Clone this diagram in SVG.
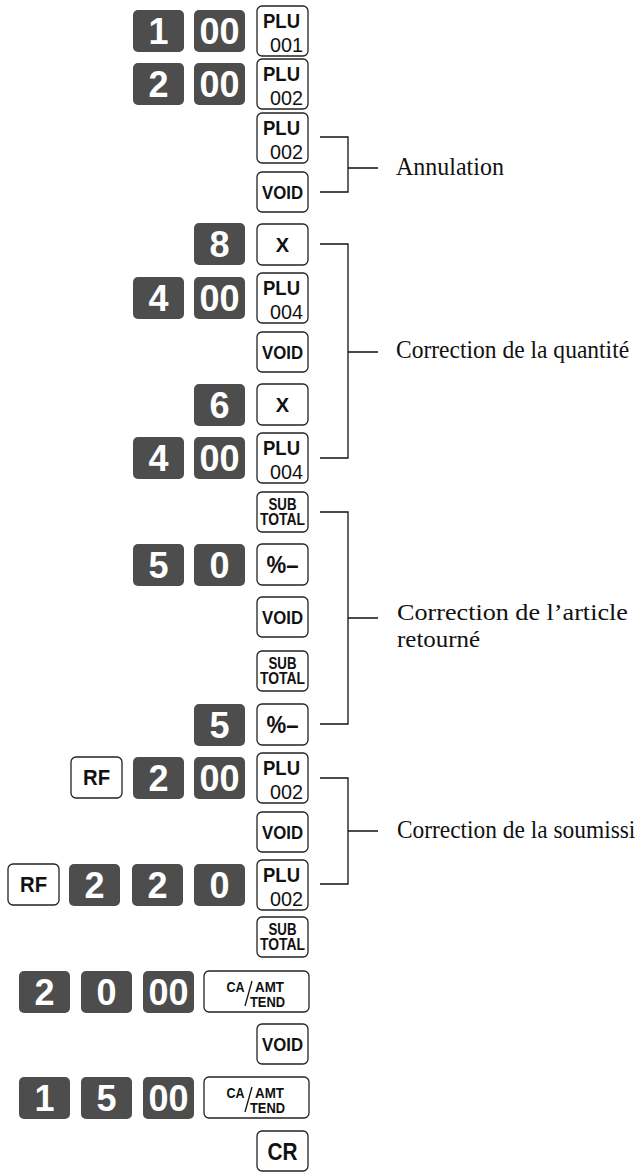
<svg xmlns="http://www.w3.org/2000/svg" width="638" height="1172" viewBox="0 0 638 1172">
<style>
.dk{fill:#4d4d4d}
.dt{font-family:"Liberation Sans",Arial,sans-serif;font-weight:bold;font-size:36px;fill:#fff;text-anchor:middle}
.wk{fill:#fff;stroke:#222;stroke-width:1.3}
.kt{font-family:"Liberation Sans",Arial,sans-serif;font-weight:bold;fill:#111;text-anchor:middle}
.pl{font-family:"Liberation Sans",Arial,sans-serif;font-weight:bold;font-size:20px;fill:#111}
.pn{font-family:"Liberation Sans",Arial,sans-serif;font-size:21px;fill:#111;text-anchor:end}
.br{stroke:#111;stroke-width:1.3;fill:none}
.lb{font-family:"Liberation Serif","Times New Roman",serif;font-size:26px;fill:#111}
.lb2{font-family:"Liberation Serif","Times New Roman",serif;font-size:24px;fill:#111}
</style>
<defs>
<rect id="d" class="dk" width="51" height="42" rx="5"/>
<rect id="w" class="wk" width="51" height="41" rx="5"/>
<rect id="wp" class="wk" width="51" height="50" rx="5"/>
<rect id="wv" class="wk" width="51" height="40" rx="5"/>
<rect id="wc" class="wk" width="105" height="41" rx="5"/>
</defs>

<!-- row 1 -->
<g id="k1-1"><use href="#d" x="133" y="10"/><text class="dt" x="158.5" y="44">1</text></g>
<g id="k1-2"><use href="#d" x="194" y="10"/><text class="dt" x="219.5" y="44">00</text></g>
<g id="k1-3"><use href="#wp" x="257" y="6"/><text class="pl" x="263" y="28" textLength="37" lengthAdjust="spacingAndGlyphs">PLU</text><text class="pn" x="303" y="52" textLength="33" lengthAdjust="spacingAndGlyphs">001</text></g>
<!-- row 2 -->
<g id="k2-1"><use href="#d" x="133" y="63"/><text class="dt" x="158.5" y="97">2</text></g>
<g id="k2-2"><use href="#d" x="194" y="63"/><text class="dt" x="219.5" y="97">00</text></g>
<g id="k2-3"><use href="#wp" x="257" y="59"/><text class="pl" x="263" y="81" textLength="37" lengthAdjust="spacingAndGlyphs">PLU</text><text class="pn" x="303" y="105" textLength="33" lengthAdjust="spacingAndGlyphs">002</text></g>
<!-- row 3 -->
<g id="k3"><use href="#wp" x="257" y="113"/><text class="pl" x="263" y="135" textLength="37" lengthAdjust="spacingAndGlyphs">PLU</text><text class="pn" x="303" y="159" textLength="33" lengthAdjust="spacingAndGlyphs">002</text></g>
<!-- row 4 -->
<g id="k4"><use href="#wv" x="257" y="172"/><text class="kt" font-size="19" x="282.5" y="199" textLength="41" lengthAdjust="spacingAndGlyphs">VOID</text></g>
<!-- row 5 -->
<g id="k5-1"><use href="#d" x="194" y="223"/><text class="dt" x="219.5" y="257">8</text></g>
<g id="k5-2"><use href="#w" x="257" y="224"/><text class="kt" font-size="20" x="282.5" y="252">X</text></g>
<!-- row 6 -->
<g id="k6-1"><use href="#d" x="133" y="277"/><text class="dt" x="158.5" y="311">4</text></g>
<g id="k6-2"><use href="#d" x="194" y="277"/><text class="dt" x="219.5" y="311">00</text></g>
<g id="k6-3"><use href="#wp" x="257" y="273"/><text class="pl" x="263" y="295" textLength="37" lengthAdjust="spacingAndGlyphs">PLU</text><text class="pn" x="303" y="319" textLength="33" lengthAdjust="spacingAndGlyphs">004</text></g>
<!-- row 7 -->
<g id="k7"><use href="#wv" x="257" y="332"/><text class="kt" font-size="19" x="282.5" y="359" textLength="41" lengthAdjust="spacingAndGlyphs">VOID</text></g>
<!-- row 8 -->
<g id="k8-1"><use href="#d" x="194" y="384"/><text class="dt" x="219.5" y="418">6</text></g>
<g id="k8-2"><use href="#w" x="257" y="384"/><text class="kt" font-size="20" x="282.5" y="412">X</text></g>
<!-- row 9 -->
<g id="k9-1"><use href="#d" x="133" y="437"/><text class="dt" x="158.5" y="471">4</text></g>
<g id="k9-2"><use href="#d" x="194" y="437"/><text class="dt" x="219.5" y="471">00</text></g>
<g id="k9-3"><use href="#wp" x="257" y="433"/><text class="pl" x="263" y="455" textLength="37" lengthAdjust="spacingAndGlyphs">PLU</text><text class="pn" x="303" y="479" textLength="33" lengthAdjust="spacingAndGlyphs">004</text></g>
<!-- row 10 -->
<g id="k10"><use href="#wv" x="257" y="492"/><text class="kt" font-size="16" x="282.5" y="510" textLength="28" lengthAdjust="spacingAndGlyphs">SUB</text><text class="kt" font-size="16" x="282.5" y="525" textLength="45" lengthAdjust="spacingAndGlyphs">TOTAL</text></g>
<!-- row 11 -->
<g id="k11-1"><use href="#d" x="133" y="544"/><text class="dt" x="158.5" y="578">5</text></g>
<g id="k11-2"><use href="#d" x="194" y="544"/><text class="dt" x="219.5" y="578">0</text></g>
<g id="k11-3"><use href="#w" x="257" y="544"/><text class="kt" font-size="23" x="282.5" y="573" textLength="32" lengthAdjust="spacingAndGlyphs">%–</text></g>
<!-- row 12 -->
<g id="k12"><use href="#wv" x="257" y="597"/><text class="kt" font-size="19" x="282.5" y="624" textLength="41" lengthAdjust="spacingAndGlyphs">VOID</text></g>
<!-- row 13 -->
<g id="k13"><use href="#wv" x="257" y="651"/><text class="kt" font-size="16" x="282.5" y="669" textLength="28" lengthAdjust="spacingAndGlyphs">SUB</text><text class="kt" font-size="16" x="282.5" y="684" textLength="45" lengthAdjust="spacingAndGlyphs">TOTAL</text></g>
<!-- row 14 -->
<g id="k14-1"><use href="#d" x="194" y="704"/><text class="dt" x="219.5" y="738">5</text></g>
<g id="k14-2"><use href="#w" x="257" y="704"/><text class="kt" font-size="23" x="282.5" y="733" textLength="32" lengthAdjust="spacingAndGlyphs">%–</text></g>
<!-- row 15 -->
<g id="k15-1"><use href="#w" x="71" y="757"/><text class="kt" font-size="22" x="96.5" y="785" textLength="27" lengthAdjust="spacingAndGlyphs">RF</text></g>
<g id="k15-2"><use href="#d" x="133" y="757"/><text class="dt" x="158.5" y="791">2</text></g>
<g id="k15-3"><use href="#d" x="194" y="757"/><text class="dt" x="219.5" y="791">00</text></g>
<g id="k15-4"><use href="#wp" x="257" y="753"/><text class="pl" x="263" y="775" textLength="37" lengthAdjust="spacingAndGlyphs">PLU</text><text class="pn" x="303" y="799" textLength="33" lengthAdjust="spacingAndGlyphs">002</text></g>
<!-- row 16 -->
<g id="k16"><use href="#wv" x="257" y="812"/><text class="kt" font-size="19" x="282.5" y="839" textLength="41" lengthAdjust="spacingAndGlyphs">VOID</text></g>
<!-- row 17 -->
<g id="k17-1"><use href="#w" x="8" y="864"/><text class="kt" font-size="22" x="33.5" y="892" textLength="27" lengthAdjust="spacingAndGlyphs">RF</text></g>
<g id="k17-2"><use href="#d" x="69" y="864"/><text class="dt" x="94.5" y="898">2</text></g>
<g id="k17-3"><use href="#d" x="132" y="864"/><text class="dt" x="157.5" y="898">2</text></g>
<g id="k17-4"><use href="#d" x="194" y="864"/><text class="dt" x="219.5" y="898">0</text></g>
<g id="k17-5"><use href="#wp" x="257" y="860"/><text class="pl" x="263" y="882" textLength="37" lengthAdjust="spacingAndGlyphs">PLU</text><text class="pn" x="303" y="906" textLength="33" lengthAdjust="spacingAndGlyphs">002</text></g>
<!-- row 18 -->
<g id="k18"><use href="#wv" x="257" y="917"/><text class="kt" font-size="16" x="282.5" y="935" textLength="28" lengthAdjust="spacingAndGlyphs">SUB</text><text class="kt" font-size="16" x="282.5" y="950" textLength="45" lengthAdjust="spacingAndGlyphs">TOTAL</text></g>
<!-- row 19 -->
<g id="k19-1"><use href="#d" x="19" y="971"/><text class="dt" x="44.5" y="1005">2</text></g>
<g id="k19-2"><use href="#d" x="81" y="971"/><text class="dt" x="106.5" y="1005">0</text></g>
<g id="k19-3"><use href="#d" x="143" y="971"/><text class="dt" x="168.5" y="1005">00</text></g>
<g id="k19-4"><use href="#wc" x="204" y="971"/><text class="kt" font-size="15" x="235.5" y="992" textLength="18" lengthAdjust="spacingAndGlyphs">CA</text><text class="kt" font-size="15" x="269.5" y="992" textLength="29" lengthAdjust="spacingAndGlyphs">AMT</text><text class="kt" font-size="15" x="267.5" y="1007" textLength="35" lengthAdjust="spacingAndGlyphs">TEND</text><line class="br" x1="252" y1="981" x2="245" y2="1006"/></g>
<!-- row 20 -->
<g id="k20"><use href="#wv" x="257" y="1024"/><text class="kt" font-size="19" x="282.5" y="1051" textLength="41" lengthAdjust="spacingAndGlyphs">VOID</text></g>
<!-- row 21 -->
<g id="k21-1"><use href="#d" x="19" y="1077"/><text class="dt" x="44.5" y="1111">1</text></g>
<g id="k21-2"><use href="#d" x="81" y="1077"/><text class="dt" x="106.5" y="1111">5</text></g>
<g id="k21-3"><use href="#d" x="143" y="1077"/><text class="dt" x="168.5" y="1111">00</text></g>
<g id="k21-4"><use href="#wc" x="204" y="1077"/><text class="kt" font-size="15" x="235.5" y="1098" textLength="18" lengthAdjust="spacingAndGlyphs">CA</text><text class="kt" font-size="15" x="269.5" y="1098" textLength="29" lengthAdjust="spacingAndGlyphs">AMT</text><text class="kt" font-size="15" x="267.5" y="1113" textLength="35" lengthAdjust="spacingAndGlyphs">TEND</text><line class="br" x1="252" y1="1087" x2="245" y2="1112"/></g>
<!-- row 22 -->
<g id="k22"><use href="#wv" x="257" y="1131"/><text class="kt" font-size="24" x="282.5" y="1160" textLength="30" lengthAdjust="spacingAndGlyphs">CR</text></g>

<!-- connectors -->
<g id="connectors">
<path class="br" d="M320,137 H348 V192 H320 M348,168 H378"/>
<path class="br" d="M320,244 H348 V458 H320 M348,352 H378"/>
<path class="br" d="M320,512 H348 V724 H320 M348,618 H378"/>
<path class="br" d="M320,778 H348 V884 H320 M348,831 H378"/>
</g>

<!-- labels -->
<g id="labels">
<text class="lb" transform="translate(396,175) scale(0.923,1)">Annulation</text>
<text class="lb" transform="translate(396,358) scale(0.905,1)">Correction de la quantité</text>
<text class="lb2" transform="translate(397,620) scale(1.09,1)">Correction de l’article</text>
<text class="lb2" transform="translate(397,647) scale(1.04,1)">retourné</text>
<text class="lb" transform="translate(397,838) scale(0.9,1)">Correction de la soumissi</text>
</g>
</svg>
